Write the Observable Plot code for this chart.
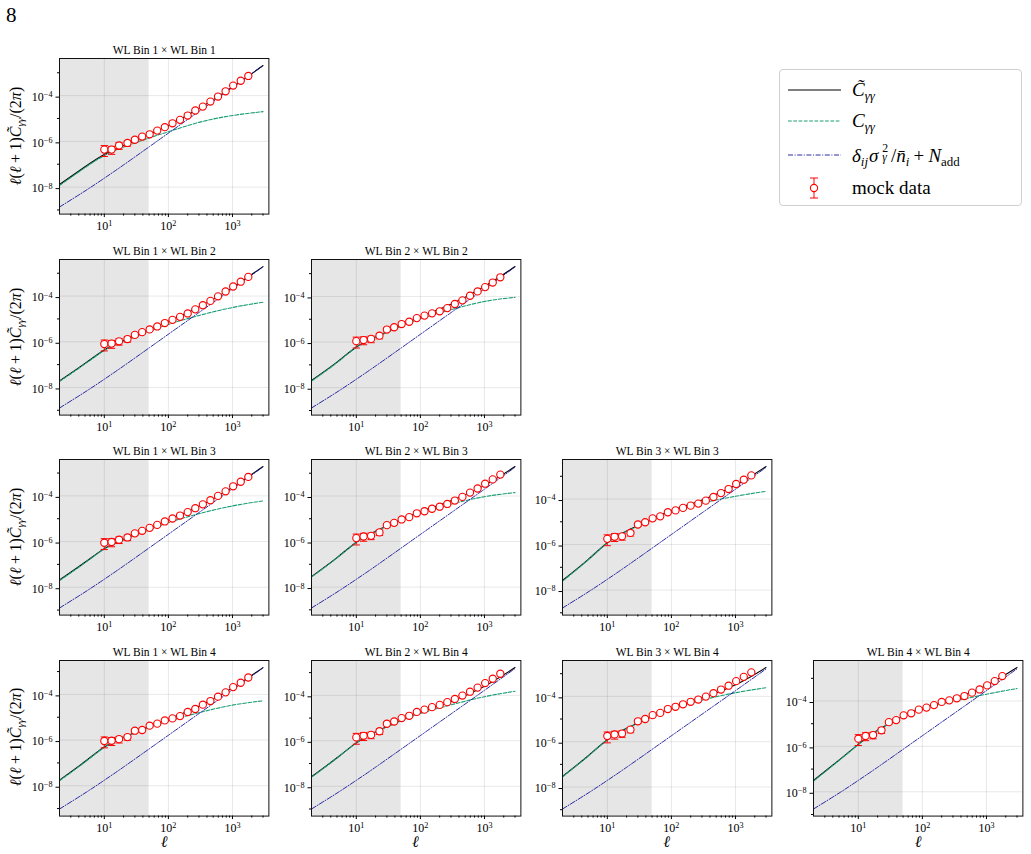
<!DOCTYPE html>
<html><head><meta charset="utf-8">
<script src="https://cdn.jsdelivr.net/npm/d3@7"></script>
<script src="https://cdn.jsdelivr.net/npm/@observablehq/plot@0.6"></script>
<style>
body{margin:0;background:#fff;}
#wrap{position:relative;width:1031px;height:854px;overflow:hidden;font-family:"Liberation Serif","Times New Roman",serif;color:#000;}
.panel{position:absolute;}
.panel svg{overflow:visible;}
.ylab{position:absolute;white-space:nowrap;font-size:16px;transform:translate(-50%,-50%) rotate(-90deg);line-height:20px;height:20px;}
.xlab{position:absolute;font-size:16px;font-style:italic;transform:translate(-50%,-50%);line-height:1;}
.it{font-style:italic;}
sub,sup{font-size:0.68em;line-height:0;}
sub{vertical-align:-0.28em;}
sup{vertical-align:0.5em;}
.ss{position:relative;display:inline-block;width:0.46em;height:1em;margin-left:0.2em;}
.ss span{position:absolute;left:0;font-size:0.62em;line-height:1;}
#legend{position:absolute;left:779px;top:69px;width:243px;height:137px;border:1px solid #cfcfcf;border-radius:4px;background:#fff;box-sizing:border-box;}
.lrow{position:absolute;left:0;width:240px;height:0;}
.lrow svg{position:absolute;left:7px;top:-12px;}
.ltxt{position:absolute;left:72px;top:-12px;height:24px;line-height:24px;font-size:19px;white-space:nowrap;}
.op{margin:0 0.22em;}
.gap{margin-right:0.08em;}
#page{position:absolute;left:6px;top:3px;font-size:21px;}
</style></head><body><div id="wrap"><div id="page">8</div></div>
<script>
// ---------- data ----------
const ells = [10, 13, 17, 23, 30, 39, 51, 67, 88, 116, 152, 200, 263, 345, 453, 595, 781, 1025, 1346, 1768];
const curveElls = [2, 5, 10, 20, 50, 100, 300, 1000, 3000];
const relErr = [0.5, 0.38, 0.32, 0.27, 0.18, 0.15, 0.12, 0.1, 0.08, 0.07, 0.06, 0.05, 0.045, 0.04, 0.035, 0.03, 0.03, 0.03, 0.03, 0.03];
const ellCut = 50;
const xDomain = [2, 3700];
const xTicks = [10, 100, 1000];
const xMinorTicks = [3, 4, 5, 6, 7, 8, 9, 20, 30, 40, 50, 60, 70, 80, 90, 200, 300, 400, 500, 600, 700, 800, 900, 2000, 3000];
const yTicks = [1e-8, 1e-6, 1e-4, 1e-2];
const yMinorTicks = [1e-9, 1e-7, 1e-5, 1e-3];

// log10 values of l(l+1)C/(2pi) at curveElls
const signal_1_1 = [-7.93, -7.15, -6.62, -6.25, -5.85, -5.58, -5.17, -4.87, -4.70];
const signal_1_2 = [-7.74, -6.97, -6.38, -5.98, -5.55, -5.24, -4.85, -4.50, -4.27];
const signal_2_2 = [-7.71, -6.90, -6.23, -5.80, -5.31, -4.97, -4.58, -4.22, -4.04];
const signal_1_3 = [-7.71, -6.93, -6.33, -5.93, -5.49, -5.17, -4.78, -4.44, -4.22];
const signal_2_3 = [-7.56, -6.72, -6.04, -5.56, -5.06, -4.74, -4.36, -4.03, -3.85];
const signal_3_3 = [-7.61, -6.68, -5.93, -5.42, -4.91, -4.55, -4.18, -3.88, -3.66];
const signal_1_4 = [-7.78, -6.96, -6.32, -5.90, -5.45, -5.17, -4.80, -4.47, -4.28];
const signal_2_4 = [-7.60, -6.76, -6.10, -5.62, -5.12, -4.80, -4.42, -4.06, -3.82];
const signal_3_4 = [-7.55, -6.64, -5.92, -5.42, -4.90, -4.56, -4.17, -3.84, -3.62];
const signal_4_4 = [-7.53, -6.62, -5.92, -5.30, -4.67, -4.33, -4.02, -3.70, -3.45];

const noise_1_1 = [-8.87, -8.17, -7.61, -7.03, -6.24, -5.64, -4.69, -3.65, -2.69];
const noise_1_2 = [-8.90, -8.20, -7.64, -7.06, -6.27, -5.67, -4.72, -3.68, -2.72];
const noise_2_2 = [-8.89, -8.19, -7.63, -7.05, -6.26, -5.66, -4.71, -3.67, -2.71];
const noise_1_3 = [-8.91, -8.21, -7.65, -7.07, -6.28, -5.68, -4.73, -3.69, -2.73];
const noise_2_3 = [-8.92, -8.22, -7.66, -7.08, -6.29, -5.69, -4.74, -3.70, -2.74];
const noise_3_3 = [-8.79, -8.09, -7.53, -6.95, -6.16, -5.56, -4.61, -3.57, -2.61];
const noise_1_4 = [-9.02, -8.32, -7.76, -7.18, -6.39, -5.79, -4.84, -3.80, -2.84];
const noise_2_4 = [-9.00, -8.30, -7.74, -7.16, -6.37, -5.77, -4.82, -3.78, -2.82];
const noise_3_4 = [-8.97, -8.27, -7.71, -7.13, -6.34, -5.74, -4.79, -3.75, -2.79];
const noise_4_4 = [-8.76, -8.06, -7.50, -6.92, -6.13, -5.53, -4.58, -3.54, -2.58];

// log10 values of the mock data points at ells
const mock_1_1 = [-6.36, -6.36, -6.18, -6.07, -5.93, -5.79, -5.69, -5.53, -5.38, -5.21, -5.06, -4.87, -4.65, -4.48, -4.26, -4.04, -3.81, -3.56, -3.35, -3.14];
const mock_1_2 = [-6.10, -6.08, -5.98, -5.88, -5.70, -5.58, -5.46, -5.33, -5.18, -5.04, -4.91, -4.76, -4.58, -4.40, -4.21, -4.01, -3.80, -3.58, -3.37, -3.16];
const mock_2_2 = [-5.96, -5.91, -5.86, -5.72, -5.45, -5.35, -5.21, -5.11, -4.95, -4.84, -4.74, -4.65, -4.51, -4.33, -4.17, -3.97, -3.78, -3.59, -3.39, -3.16];
const mock_1_3 = [-6.05, -6.02, -5.92, -5.82, -5.64, -5.53, -5.40, -5.27, -5.12, -4.99, -4.86, -4.71, -4.54, -4.37, -4.19, -4.00, -3.80, -3.58, -3.38, -3.17];
const mock_2_3 = [-5.85, -5.78, -5.75, -5.60, -5.28, -5.18, -5.03, -4.93, -4.76, -4.67, -4.56, -4.47, -4.35, -4.20, -4.04, -3.85, -3.67, -3.46, -3.27, -3.06];
const mock_3_3 = [-5.75, -5.66, -5.64, -5.49, -5.12, -5.02, -4.85, -4.76, -4.58, -4.50, -4.39, -4.29, -4.20, -4.07, -3.91, -3.74, -3.56, -3.34, -3.15, -2.96];
const mock_1_4 = [-6.04, -6.03, -5.96, -5.87, -5.59, -5.56, -5.37, -5.28, -5.14, -5.05, -4.95, -4.77, -4.64, -4.45, -4.29, -4.10, -3.91, -3.68, -3.49, -3.26];
const mock_2_4 = [-5.85, -5.78, -5.74, -5.58, -5.25, -5.15, -5.00, -4.90, -4.73, -4.63, -4.52, -4.42, -4.30, -4.16, -4.01, -3.84, -3.66, -3.46, -3.27, -3.05];
const mock_3_4 = [-5.75, -5.68, -5.64, -5.47, -5.10, -5.00, -4.83, -4.73, -4.56, -4.46, -4.35, -4.24, -4.14, -4.01, -3.86, -3.70, -3.53, -3.33, -3.14, -2.94];
const mock_4_4 = [-5.66, -5.54, -5.50, -5.29, -4.93, -4.84, -4.63, -4.54, -4.38, -4.29, -4.18, -4.04, -3.97, -3.88, -3.78, -3.63, -3.49, -3.31, -3.12, -2.90];

const panels = [
  {a: 1, b: 1, signal: signal_1_1, noise: noise_1_1, mock: mock_1_1},
  {a: 1, b: 2, signal: signal_1_2, noise: noise_1_2, mock: mock_1_2},
  {a: 2, b: 2, signal: signal_2_2, noise: noise_2_2, mock: mock_2_2},
  {a: 1, b: 3, signal: signal_1_3, noise: noise_1_3, mock: mock_1_3},
  {a: 2, b: 3, signal: signal_2_3, noise: noise_2_3, mock: mock_2_3},
  {a: 3, b: 3, signal: signal_3_3, noise: noise_3_3, mock: mock_3_3},
  {a: 1, b: 4, signal: signal_1_4, noise: noise_1_4, mock: mock_1_4},
  {a: 2, b: 4, signal: signal_2_4, noise: noise_2_4, mock: mock_2_4},
  {a: 3, b: 4, signal: signal_3_4, noise: noise_3_4, mock: mock_3_4},
  {a: 4, b: 4, signal: signal_4_4, noise: noise_4_4, mock: mock_4_4}
];

// ---------- styling / layout ----------
const COL_TOTAL = "#000000", COL_SIG = "#1b9e77", COL_NOISE = "#14149a", COL_MOCK = "#ff0000";
const frameLeft = [59.3, 310.6, 561.9, 813.3];
const frameTop = [58.4, 258.8, 459.2, 659.6];
const FW = 209.4, FH = 155.6;
const ML = 46, MR = 8, MT = 24, MB = 26;
const FONT = '"Liberation Serif","Times New Roman",serif';

const capSymbol = {draw(ctx) { ctx.moveTo(-3.6, 0); ctx.lineTo(3.6, 0); }};
const pow = (e) => Math.pow(10, e);
const fmtExp = (d) => "10^" + String(Math.round(Math.log10(d))).replace("-", "\u2212");

function supify(svg) {
  svg.querySelectorAll('g[aria-label$="tick label"] text').forEach((t) => {
    const m = /^10\^(.+)$/.exec(t.textContent);
    if (!m) return;
    t.textContent = "10";
    const ts = document.createElementNS("http://www.w3.org/2000/svg", "tspan");
    ts.setAttribute("dy", "-0.48em");
    ts.setAttribute("font-size", "0.68em");
    ts.textContent = m[1];
    t.appendChild(ts);
  });
}

const tildeC = '<span class="it">C\u0303</span>';
const wrap = document.getElementById("wrap");

for (const p of panels) {
  const col = p.a - 1, row = p.b - 1;
  const curve = curveElls.map((ell, k) => {
    const s = pow(p.signal[k]), n = pow(p.noise[k]);
    return {ell, signal: s, noise: n, total: s + n};
  });
  const pts = ells.map((ell, k) => {
    const y = pow(p.mock[k]);
    return {ell, y, lo: y * (1 - relErr[k]), hi: y * (1 + relErr[k])};
  });
  const vals = [...curve.flatMap((d) => [d.signal, d.noise, d.total]), ...pts.flatMap((d) => [d.lo, d.hi])];
  const lo = Math.log10(d3.min(vals)), hi = Math.log10(d3.max(vals));
  const pad = 0.05 * (hi - lo);
  const yDomain = [pow(lo - pad), pow(hi + pad)];
  const yt = yTicks.filter((t) => t >= yDomain[0] && t <= yDomain[1]);
  const ytm = yMinorTicks.filter((t) => t >= yDomain[0] && t <= yDomain[1]);

  const chart = Plot.plot({
    width: ML + FW + MR,
    height: MT + FH + MB,
    marginLeft: ML, marginRight: MR, marginTop: MT, marginBottom: MB,
    style: {fontFamily: FONT, fontSize: "12px", color: "#000", background: "transparent", overflow: "visible"},
    x: {type: "log", domain: xDomain},
    y: {type: "log", domain: yDomain},
    marks: [
      Plot.rect([ellCut], {x1: xDomain[0], x2: (d) => d, fill: "#e6e6e6"}),
      Plot.gridX(xTicks, {stroke: "#000", strokeOpacity: 0.1, strokeWidth: 0.9}),
      Plot.gridY(yt, {stroke: "#000", strokeOpacity: 0.1, strokeWidth: 0.9}),
      Plot.line(curve, {x: "ell", y: "total", stroke: COL_TOTAL, strokeWidth: 1.1, curve: "natural"}),
      Plot.line(curve, {x: "ell", y: "signal", stroke: COL_SIG, strokeWidth: 1.1, strokeDasharray: "3.7,1.6", curve: "natural"}),
      Plot.line(curve, {x: "ell", y: "noise", stroke: COL_NOISE, strokeWidth: 0.9, strokeDasharray: "5,1.6,1,1.6", curve: "natural"}),
      Plot.ruleX(pts, {x: "ell", y1: "lo", y2: "hi", stroke: COL_MOCK, strokeWidth: 1}),
      Plot.dot(pts, {x: "ell", y: "lo", symbol: capSymbol, stroke: COL_MOCK, fill: "none", strokeWidth: 1}),
      Plot.dot(pts, {x: "ell", y: "hi", symbol: capSymbol, stroke: COL_MOCK, fill: "none", strokeWidth: 1}),
      Plot.dot(pts, {x: "ell", y: "y", r: 3.6, stroke: COL_MOCK, fill: "#fff", strokeWidth: 1.1}),
      Plot.frame({stroke: "#111", strokeWidth: 1}),
      Plot.axisX({ticks: xTicks, tickSize: 3.5, tickPadding: 3.5, tickFormat: fmtExp, fontSize: 12, label: null}),
      Plot.axisX({ticks: xMinorTicks, tickSize: 2, tickFormat: () => "", label: null}),
      Plot.axisY({ticks: yt, tickSize: 3.5, tickPadding: 3.5, tickFormat: fmtExp, fontSize: 12, label: null, dy: 1.5}),
      Plot.axisY({ticks: ytm, tickSize: 2, tickFormat: () => "", label: null}),
      Plot.text([`WL Bin ${p.a} \u00d7 WL Bin ${p.b}`], {frameAnchor: "top", lineAnchor: "bottom", dy: -4.5, fontSize: 11.5, fill: "#000"})
    ]
  });
  supify(chart);
  const div = document.createElement("div");
  div.className = "panel";
  div.style.left = (frameLeft[col] - ML) + "px";
  div.style.top = (frameTop[row] - MT) + "px";
  div.appendChild(chart);
  wrap.appendChild(div);

  if (col === 0) {
    const yl = document.createElement("div");
    yl.className = "ylab";
    yl.style.left = "16px";
    yl.style.top = (frameTop[row] + FH / 2) + "px";
    yl.innerHTML = '<span class="it">\u2113</span>(<span class="it">\u2113</span><span class="op">+</span>1)' + tildeC + '<sub class="it">\u03b3\u03b3</sub>/(2<span class="it">\u03c0</span>)';
    wrap.appendChild(yl);
  }
  if (row === 3) {
    const xl = document.createElement("div");
    xl.className = "xlab";
    xl.style.left = (frameLeft[col] + FW / 2) + "px";
    xl.style.top = "841.5px";
    xl.textContent = "\u2113";
    wrap.appendChild(xl);
  }
}

// ---------- legend ----------
const legend = document.createElement("div");
legend.id = "legend";
const rows = [
  {y: 20.3, svg: `<line x1="1" x2="54" y1="12" y2="12" stroke="${COL_TOTAL}" stroke-width="1.1"/>`,
   html: tildeC + '<sub class="it">\u03b3\u03b3</sub>'},
  {y: 51, svg: `<line x1="1" x2="54" y1="12" y2="12" stroke="${COL_SIG}" stroke-width="1.1" stroke-dasharray="3.7,1.6"/>`,
   html: '<span class="it">C</span><sub class="it">\u03b3\u03b3</sub>'},
  {y: 85.3, svg: `<line x1="1" x2="54" y1="12" y2="12" stroke="${COL_NOISE}" stroke-width="0.9" stroke-dasharray="5,1.6,1,1.6"/>`,
   html: '<span class="it">\u03b4</span><sub class="it gap">ij</sub><span class="it">\u03c3</span><span class="ss"><span style="top:-0.06em">2</span><span class="it" style="top:0.78em">\u03b3</span></span>/<span class="it">n\u0304</span><sub class="it">i</sub><span class="op">+</span><span class="it">N</span><sub>add</sub>'},
  {y: 117.7, svg: `<line x1="27" x2="27" y1="2" y2="22" stroke="${COL_MOCK}" stroke-width="1"/><line x1="23" x2="31" y1="2" y2="2" stroke="${COL_MOCK}" stroke-width="1"/><line x1="23" x2="31" y1="22" y2="22" stroke="${COL_MOCK}" stroke-width="1"/><circle cx="27" cy="12" r="3.6" fill="#fff" stroke="${COL_MOCK}" stroke-width="1.1"/>`,
   html: 'mock data'}
];
for (const r of rows) {
  const d = document.createElement("div");
  d.className = "lrow";
  d.style.top = r.y + "px";
  d.innerHTML = `<svg width="56" height="24">${r.svg}</svg><div class="ltxt">${r.html}</div>`;
  legend.appendChild(d);
}
wrap.appendChild(legend);
</script>
</body></html>
